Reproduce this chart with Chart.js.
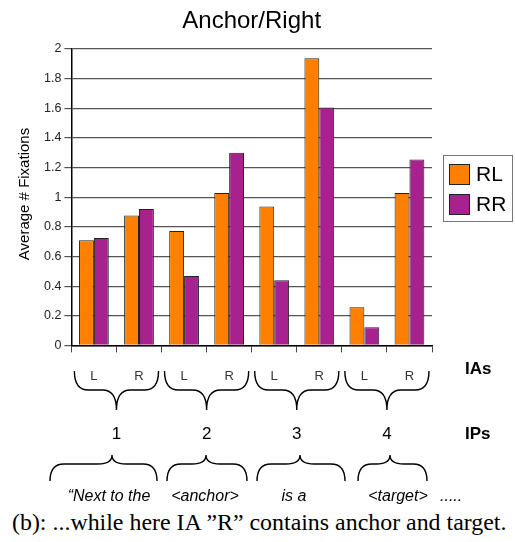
<!DOCTYPE html>
<html>
<head>
<meta charset="utf-8">
<script src="https://cdn.jsdelivr.net/npm/chart.js@4"></script>
<style>
  html, body { margin: 0; padding: 0; background: #fff; }
  #wrap { position: relative; width: 515px; height: 505px; }
  #caption {
    font-family: "Liberation Serif", "Times New Roman", serif;
    font-size: 23.9px; color: #000;
    position: absolute; left: 12px; top: 509px; white-space: nowrap;
  }
</style>
</head>
<body>
<div id="wrap"><canvas id="chart" width="515" height="505"></canvas></div>
<div id="caption">(b): ...while here IA ”R” contains anchor and target.</div>
<script>
// --- Data ---
const categories = ['L', 'R', 'L', 'R', 'L', 'R', 'L', 'R'];
const rlValues = [0.71, 0.877, 0.772, 1.028, 0.938, 1.937, 0.258, 1.028];
const rrValues = [0.725, 0.92, 0.469, 1.30, 0.44, 1.605, 0.123, 1.255];
const seriesNames = ['RL', 'RR'];
const ipLabels = ['1', '2', '3', '4'];
const phraseWords = ['\u201cNext to the', '<anchor>', 'is a', '<target>'];
const yTicks = [0, 0.2, 0.4, 0.6, 0.8, 1, 1.2, 1.4, 1.6, 1.8, 2];

const ORANGE = '#ff8000';
const PURPLE = '#a8228f';
const SANS = '"Liberation Sans", Arial, sans-serif';

// curly brace between x1 and x2 with its point at xTip
const drawBrace = (ctx, x1, x2, xTip, yEnd, yMid, yTip) => {
    const r = Math.min(14, (x2 - x1) / 5);
    ctx.beginPath();
    ctx.moveTo(x1, yEnd);
    ctx.quadraticCurveTo(x1, yMid, x1 + r, yMid);
    ctx.lineTo(xTip - r, yMid);
    ctx.quadraticCurveTo(xTip, yMid, xTip, yTip);
    ctx.quadraticCurveTo(xTip, yMid, xTip + r, yMid);
    ctx.lineTo(x2 - r, yMid);
    ctx.quadraticCurveTo(x2, yMid, x2, yEnd);
    ctx.stroke();
};

const annotations = {
    id: 'annotations',
    afterDraw(chart) {
        const { ctx, chartArea, scales } = chart;
        const x = scales.x;
        ctx.save();

        // title
        ctx.fillStyle = '#000';
        ctx.font = '24px ' + SANS;
        ctx.textAlign = 'center';
        ctx.textBaseline = 'middle';
        ctx.fillText('Anchor/Right', (chartArea.left + chartArea.right) / 2, 21);

        // y axis title
        ctx.save();
        ctx.translate(25, 194);
        ctx.rotate(-Math.PI / 2);
        ctx.font = '15px ' + SANS;
        ctx.fillText('Average # Fixations', 0, 0);
        ctx.restore();

        // legend
        ctx.strokeStyle = '#777';
        ctx.lineWidth = 1;
        ctx.strokeRect(443.5, 155.5, 69, 66);
        chart.data.datasets.forEach((ds, i) => {
            const top = 164 + i * 30;
            ctx.fillStyle = ds.backgroundColor;
            ctx.fillRect(449, top, 20, 20);
            ctx.strokeStyle = '#222';
            ctx.strokeRect(449.5, top + 0.5, 20, 20);
            ctx.fillStyle = '#000';
            ctx.font = '21px ' + SANS;
            ctx.textAlign = 'left';
            ctx.fillText(ds.label, 476, top + 11);
        });

        // IA braces, IP numbers
        ctx.strokeStyle = '#000';
        ctx.lineWidth = 1.4;
        ipLabels.forEach((lab, k) => {
            const a = x.getPixelForValue(2 * k - 0.5) + 3;
            const b = x.getPixelForValue(2 * k + 1.5) - 3;
            const c = x.getPixelForValue(2 * k + 0.5);
            drawBrace(ctx, a, b, c, 371, 390, 410);
            ctx.fillStyle = '#000';
            ctx.font = '17px ' + SANS;
            ctx.textAlign = 'center';
            ctx.fillText(lab, c, 434);
        });

        ctx.font = 'bold 17px ' + SANS;
        ctx.textAlign = 'left';
        ctx.fillText('IAs', 465, 369);
        ctx.fillText('IPs', 465, 434);

        // phrase braces and words
        const spans = [[50, 157, 112], [167, 247, 206], [257, 345, 300], [358, 427, 390]];
        const wordX = [109, 205, 294, 398];
        spans.forEach(([a, b, c], i) => {
            drawBrace(ctx, a, b, c, 481, 464, 455);
            ctx.font = 'italic 16px ' + SANS;
            ctx.textAlign = 'center';
            ctx.fillText(phraseWords[i], wordX[i], 497);
        });
        ctx.textAlign = 'left';
        ctx.fillText('.....', 440, 497);

        ctx.restore();
    }
};

new Chart(document.getElementById('chart'), {
    type: 'bar',
    data: {
        labels: categories,
        datasets: [
            { label: seriesNames[0], data: rlValues, backgroundColor: ORANGE },
            { label: seriesNames[1], data: rrValues, backgroundColor: PURPLE }
        ]
    },
    options: {
        responsive: false,
        animation: false,
        layout: { padding: { top: 49, right: 83, bottom: 105, left: 41 } },
        datasets: {
            bar: {
                borderColor: '#222',
                borderWidth: 1,
                borderSkipped: 'bottom',
                categoryPercentage: 0.66,
                barPercentage: 1
            }
        },
        plugins: {
            legend: { display: false },
            title: { display: false },
            tooltip: { enabled: false }
        },
        scales: {
            x: {
                grid: {
                    offset: true,
                    drawOnChartArea: false,
                    drawTicks: true,
                    tickLength: 7,
                    color: '#444'
                },
                border: { color: '#000', width: 1.5 },
                ticks: {
                    color: '#333',
                    font: { family: SANS, size: 13 },
                    padding: 16
                }
            },
            y: {
                min: 0,
                max: 2,
                afterBuildTicks: (axis) => { axis.ticks = yTicks.map(v => ({ value: v })); },
                grid: { color: '#555', lineWidth: 1.2, tickLength: 7 },
                border: { color: '#000', width: 1.5 },
                ticks: {
                    color: '#222',
                    font: { family: SANS, size: 12.5 },
                    padding: 3,
                    callback: (v) => String(+Number(v).toFixed(1))
                }
            }
        }
    },
    plugins: [annotations]
});
</script>
</body>
</html>
